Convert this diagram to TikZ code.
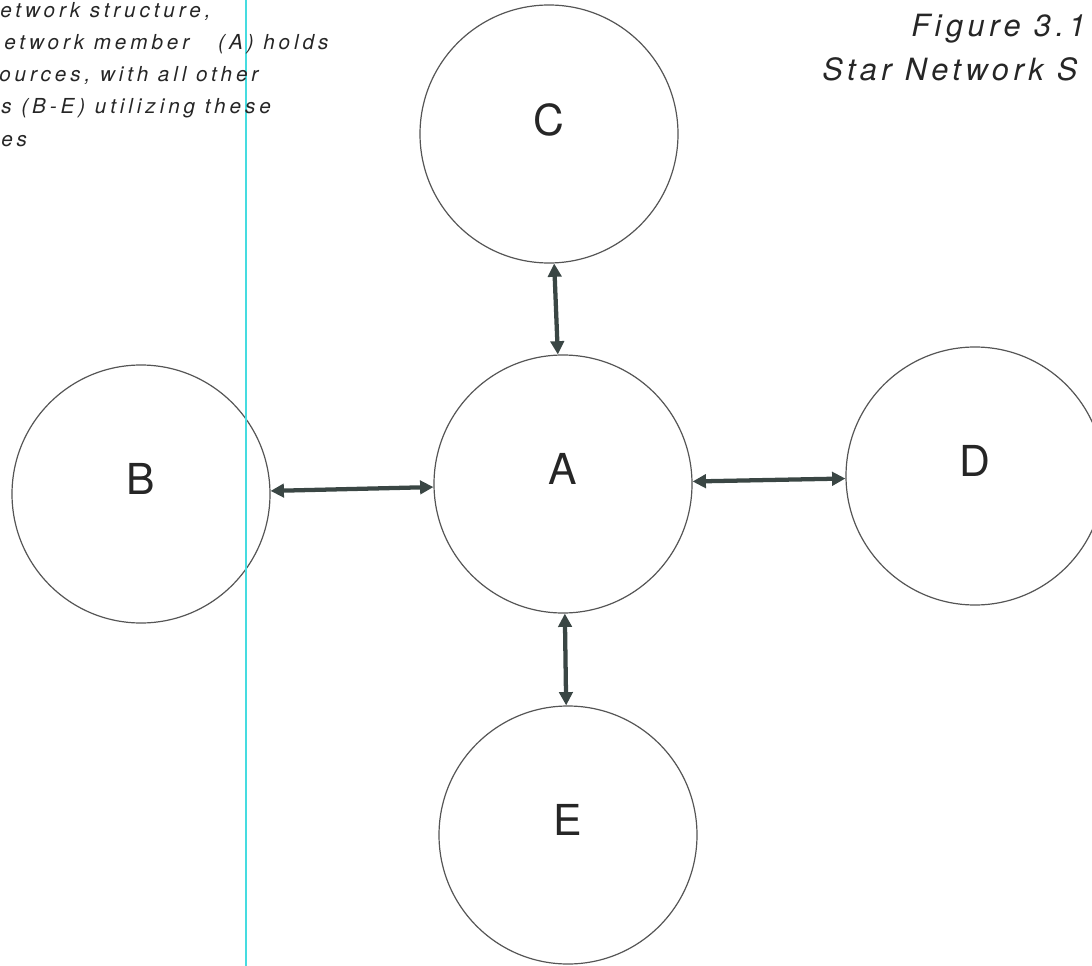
\documentclass[tikz,border=0pt]{standalone}
\usepackage{fontspec}
\usepackage{tikz}
\usetikzlibrary{arrows.meta}
\setmainfont{TeX Gyre Heros}
\newfontfamily\notefont[LetterSpace=19]{TeX Gyre Heros}
\newfontfamily\titlefont[LetterSpace=15]{TeX Gyre Heros}
\definecolor{ringgray}{HTML}{555555}
\definecolor{linkgray}{HTML}{3A4644}
\definecolor{textgray}{HTML}{262626}
\definecolor{guidecyan}{HTML}{45DCE0}

\begin{document}
\begin{tikzpicture}[x=0.75pt,y=-0.75pt,
    member/.style={circle,draw=ringgray,line width=0.9pt,minimum size=193.5pt,inner sep=0pt,
        text depth=22pt,font=\fontsize{32}{32}\selectfont,text=textgray},
    link/.style={{Triangle[length=10pt,width=10pt]}-{Triangle[length=10pt,width=10pt]},
        line width=3.2pt,draw=linkgray},
    note/.style={anchor=base west,inner sep=0pt,text=textgray,
        font=\fontsize{15.5}{18}\selectfont\notefont\itshape},
    title/.style={anchor=base west,inner sep=0pt,text=textgray,
        font=\fontsize{23}{26}\selectfont\titlefont\itshape}]
    \clip (0,0) rectangle (1092,966);
    % members of the star
    \node[member] (A) at (563,484) {A};
    \node[member] (B) at (141,494) {B};
    \node[member] (C) at (549,134) {C};
    \node[member] (D) at (975,476) {D};
    \node[member] (E) at (568,835) {E};
    \foreach \m in {B,C,D,E}
        \draw[link] (\m) -- (A);
    % guide line
    \draw[guidecyan,line width=1.5pt] (246,0) -- (246,966);
    % text
    \node[note] (n1) at (0,18) {etwork structure,};
    \node[note] (n2) at (4,50) {etwork member~~~(A) holds};
    \node[note] (n3) at (-1,82) {ources, with all other};
    \node[note] (n4) at (1,114) {s (B-E) utilizing these};
    \node[note] (n5) at (1,147) {es};
    \node[title] (fig) at (911,37) {Figure 3.1};
    \node[title] (cap) at (822,81) {Star Network~S};
\end{tikzpicture}
\end{document}
